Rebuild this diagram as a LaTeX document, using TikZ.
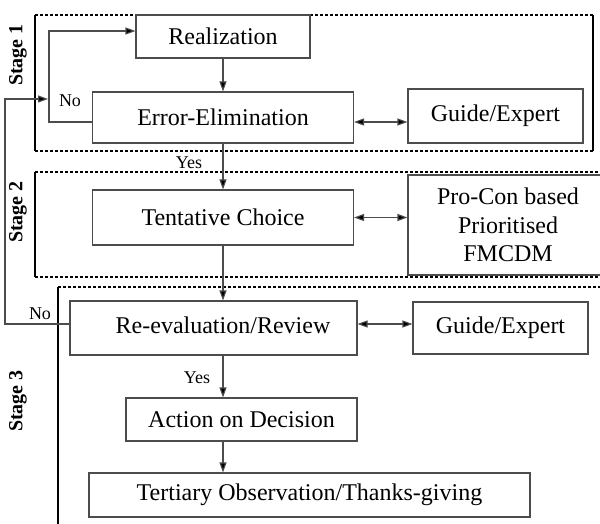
\documentclass[tikz,border=0pt]{standalone}
\usepackage{fontspec}
\setmainfont{Liberation Serif}
\usetikzlibrary{arrows.meta,positioning}
\tikzset{
  box/.style={draw=black!70, line width=1.1pt, rectangle, inner sep=0pt, font=\fontsize{24}{28.5}\selectfont, align=center},
  arr/.style={draw=black!70, line width=1.1pt, -{Triangle[length=10pt,width=7pt,fill=black]}},
  darr/.style={draw=black!70, line width=1.1pt, {Triangle[length=10pt,width=7pt,fill=black]}-{Triangle[length=10pt,width=7pt,fill=black]}},
  stagedot/.style={draw=black, line width=1.2pt, dash pattern=on 3pt off 2pt},
  stageside/.style={draw=black, line width=1.3pt},
  lab/.style={font=\fontsize{18}{21}\selectfont, inner sep=0pt},
  stagelab/.style={font=\fontsize{20}{24}\selectfont\bfseries, rotate=90, inner sep=0pt}
}
\begin{document}
\begin{tikzpicture}[x=1pt,y=-1pt]
\useasboundingbox[fill=white] (0,0) rectangle (600,524);
\begin{scope}
\clip (0,0) rectangle (600,524);
% stage frames
\draw[stagedot] (35,15) -- (593,15);
\draw[stagedot] (35,151) -- (593,151);
\draw[stageside] (35,15) -- (35,151);
\draw[stageside] (593,15) -- (593,151);
\draw[stagedot] (35,172) -- (600,172);
\draw[stagedot] (35,277) -- (600,277);
\draw[stageside] (35,172) -- (35,277);
\draw[stagedot] (58,287) -- (600,287);
\draw[stageside] (58,287) -- (58,524);
\node[stagelab] (s1) at (18,55) {Stage 1};
\node[stagelab] (s2) at (18,212) {Stage 2};
\node[stagelab] (s3) at (18,401) {Stage 3};
% boxes
\node[box, fill=white, minimum width=174pt, minimum height=43pt] (real) at (223,36.5) {Realization};
\node[box, minimum width=261pt, minimum height=51pt] (ee) at (223,117.5) {Error-Elimination};
\node[box, minimum width=175pt, minimum height=54pt] (g1) at (495.5,116) {Guide/Expert};
\node[box, minimum width=261pt, minimum height=55pt] (tc) at (223,217.5) {Tentative Choice};
\node[box, minimum width=200pt, minimum height=100pt] (pc) at (508,225) {Pro-Con based\\Prioritised\\FMCDM};
\node[box, minimum width=287pt, minimum height=54pt] (rev) at (213.5,328) {};
\node[font=\fontsize{24}{28.5}\selectfont, inner sep=0pt] (revt) at (223,325) {Re-evaluation/Review};
\node[box, minimum width=175pt, minimum height=52pt] (g2) at (500.5,328) {Guide/Expert};
\node[box, minimum width=231pt, minimum height=43pt] (act) at (241.5,419.5) {Action on Decision};
\node[box, minimum width=441pt, minimum height=44pt] (ter) at (309.5,495) {Tertiary Observation/Thanks-giving};
% coordinates
\coordinate (c1) at (49,122);
\coordinate (c2) at (49,31);
\coordinate (c3) at (5,324);
\coordinate (c4) at (5,99);
\coordinate (c5) at (48,99);
% vertical flow
\draw[arr] (real.south) -- (real.south |- ee.north);
\draw[arr] (ee.south) -- (ee.south |- tc.north);
\draw[arr] (tc.south) -- (tc.south |- rev.north);
\draw[arr] (rev.south -| tc.south) -- (act.north -| tc.south);
\draw[arr] (act.south -| tc.south) -- (ter.north -| tc.south);
% feedback loops
\draw[arr] (ee.west |- c1) -- (c1) -- (c2) -- (real.west |- c2);
\draw[arr] (rev.west |- c3) -- (c3) -- (c4) -- (c5);
% double arrows
\draw[darr] (ee.east |- c1) -- (g1.west |- c1);
\draw[darr] (tc.east) -- (pc.west |- tc.east);
\draw[darr] (rev.east |- c3) -- (g2.west |- c3);
% labels
\node[lab] (no1) at (70,101) {No};
\node[lab] (yes1) at (189,163) {Yes};
\node[lab] (no2) at (40,314) {No};
\node[lab] (yes2) at (197,378) {Yes};
\end{scope}
\end{tikzpicture}
\end{document}
